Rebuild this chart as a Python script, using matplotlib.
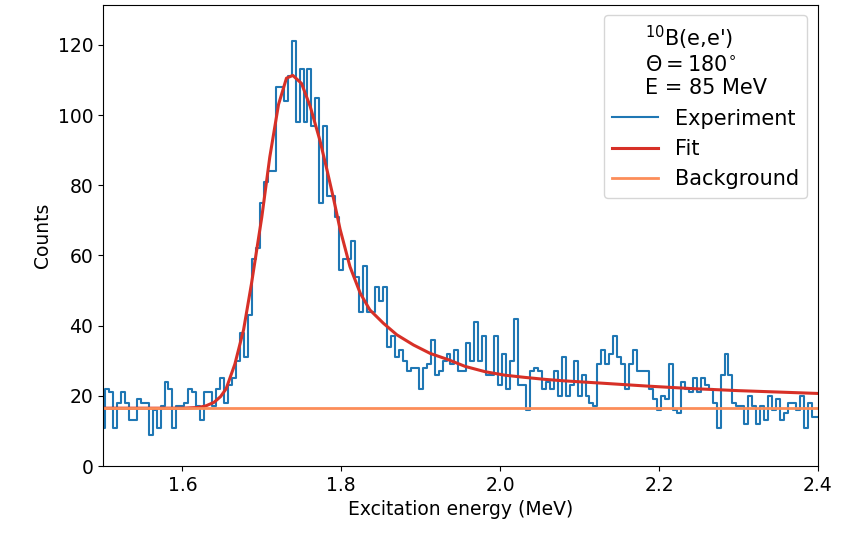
import numpy as np
import matplotlib
matplotlib.use("Agg")
import matplotlib.pyplot as plt

# spectrum, one value per 5 keV channel starting at 1.500 MeV
e_start = 1.5
e_step = 0.005
counts = [
    11, 22, 21, 11, 18, 21, 18, 13, 13, 19,
    18, 18, 9, 16, 11, 17, 24, 22, 11, 17,
    17, 18, 22, 21, 17, 13, 21, 21, 17, 22,
    25, 18, 23, 25, 30, 38, 31, 43, 59, 62,
    75, 81, 84, 84, 108, 108, 104, 111, 121, 98,
    113, 98, 113, 97, 105, 75, 97, 77, 77, 71,
    56, 59, 59, 64, 54, 44, 57, 44, 44, 51,
    47, 51, 34, 37, 31, 33, 30, 27, 28, 28,
    22, 28, 29, 36, 26, 27, 30, 32, 29, 33,
    27, 27, 35, 30, 41, 30, 37, 26, 26, 37,
    23, 32, 22, 30, 42, 23, 23, 16, 27, 28,
    27, 22, 24, 22, 27, 20, 31, 20, 23, 30,
    20, 26, 20, 18, 17, 29, 33, 29, 32, 37,
    31, 29, 22, 29, 33, 27, 27, 27, 22, 19,
    16, 20, 19, 29, 16, 15, 24, 22, 21, 25,
    21, 25, 23, 22, 18, 11, 26, 32, 26, 18,
    17, 17, 12, 20, 17, 12, 17, 13, 20, 16,
    19, 13, 15, 18, 18, 16, 20, 11, 18, 14,
    14,
]
energy = e_start + e_step * np.arange(len(counts))

# fit curve
fit_e = [1.50, 1.60, 1.62, 1.63, 1.64, 1.648, 1.655, 1.666, 1.677, 1.687,
         1.700, 1.710, 1.721, 1.731, 1.739, 1.750, 1.761, 1.773, 1.782, 1.790,
         1.7985, 1.811, 1.824, 1.836, 1.853, 1.870, 1.891, 1.912, 1.935, 1.956,
         1.981, 2.006, 2.03, 2.057, 2.08, 2.13, 2.185, 2.24, 2.30, 2.35, 2.40]
fit_c = [16.5, 16.5, 16.7, 17.2, 18.2, 19.8, 22.0, 29.0, 38.8, 52.0,
         71.0, 88.0, 103.0, 110.5, 111.3, 109.0, 102.4, 92.9, 84.4, 76.5,
         67.5, 56.8, 49.2, 44.5, 40.7, 37.4, 34.5, 32.1, 30.3, 28.4,
         26.9, 25.9, 25.3, 24.7, 24.3, 23.6, 22.8, 22.1, 21.5, 21.1, 20.7]

background = 16.5

fig, ax = plt.subplots(figsize=(8.44, 5.37), dpi=100)
fig.subplots_adjust(left=0.122, right=0.969, top=0.991, bottom=0.132)

ax.step(energy, counts, where='mid', color='#1f77b4', lw=1.5, label='Experiment')
ax.plot(fit_e, fit_c, color='#d73027', lw=2.2, label='Fit')
ax.axhline(background, color='#fc8d59', lw=2.0, label='Background')

ax.set_xlim(1.5, 2.4)
ax.set_ylim(0, 131.4)
ax.set_xticks([1.6, 1.8, 2.0, 2.2, 2.4])
ax.set_yticks(range(0, 121, 20))
ax.tick_params(labelsize=13.5)
ax.set_xlabel('Excitation energy (MeV)', fontsize=13.5)
ax.set_ylabel('Counts', fontsize=13.5)

ax.legend(title="$^{10}$B(e,e')\n$\\Theta = 180^{\\circ}$\nE = 85 MeV",
          loc='upper right', fontsize=15, title_fontsize=15,
          handlelength=2.2)

fig.savefig('out.png', dpi=100)
